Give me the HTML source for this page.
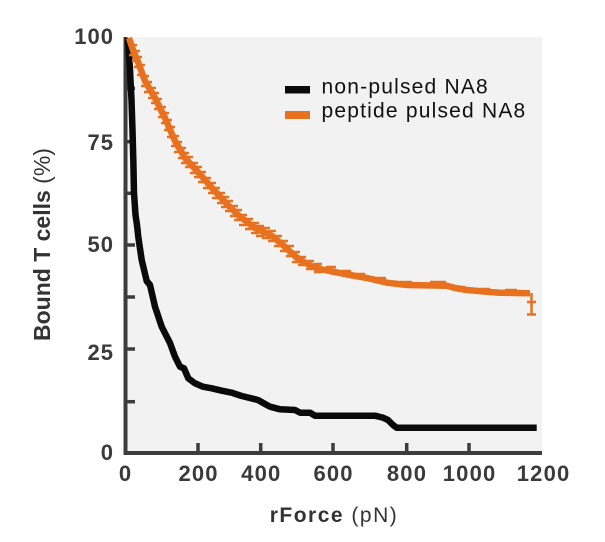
<!DOCTYPE html>
<html>
<head>
<meta charset="utf-8">
<style>
  html, body { margin: 0; padding: 0; background: #ffffff; }
  svg { display: block; }
  text { font-family: "Liberation Sans", Arial, sans-serif; }
</style>
</head>
<body>
<svg width="605" height="542" viewBox="0 0 605 542" xmlns="http://www.w3.org/2000/svg">
  <rect x="0" y="0" width="605" height="542" fill="#ffffff"/>
  <!-- plot background -->
  <rect x="127" y="37" width="415" height="415" fill="#f2f2f2"/>

  <!-- axes -->
  <g stroke="#3d3d3d" stroke-width="4" fill="none">
    <line x1="125.5" y1="37" x2="125.5" y2="455"/>
    <line x1="123.5" y1="453" x2="542" y2="453"/>
  </g>
  <!-- y ticks -->
  <g stroke="#3d3d3d" stroke-width="3.5">
    <line x1="125" y1="88.3" x2="135" y2="88.3"/>
    <line x1="125" y1="141.7" x2="135" y2="141.7"/>
    <line x1="125" y1="193.3" x2="135" y2="193.3"/>
    <line x1="125" y1="245" x2="135" y2="245"/>
    <line x1="125" y1="297" x2="135" y2="297"/>
    <line x1="125" y1="349" x2="135" y2="349"/>
    <line x1="125" y1="401.7" x2="135" y2="401.7"/>
  </g>
  <!-- x ticks -->
  <g stroke="#3d3d3d" stroke-width="3.5">
    <line x1="198" y1="443" x2="198" y2="453"/>
    <line x1="260.7" y1="443" x2="260.7" y2="453"/>
    <line x1="333" y1="443" x2="333" y2="453"/>
    <line x1="406.7" y1="443" x2="406.7" y2="453"/>
    <line x1="469" y1="443" x2="469" y2="453"/>
  </g>

  <!-- y tick labels -->
  <g font-size="22" font-weight="bold" fill="#3a3a3a" text-anchor="end" letter-spacing="1">
    <text x="114" y="44">100</text>
    <text x="114" y="150">75</text>
    <text x="114" y="252">50</text>
    <text x="114" y="360">25</text>
    <text x="114" y="460">0</text>
  </g>
  <!-- x tick labels -->
  <g font-size="22" font-weight="bold" fill="#3a3a3a" text-anchor="middle" letter-spacing="1.2">
    <text x="125.6" y="481">0</text>
    <text x="198.6" y="481">200</text>
    <text x="261.3" y="481">400</text>
    <text x="333.6" y="481">600</text>
    <text x="407" y="481">800</text>
    <text x="469.6" y="481">1000</text>
    <text x="543.6" y="481">1200</text>
  </g>

  <!-- axis labels -->
  <text x="334" y="522" font-size="21" fill="#333333" text-anchor="middle" letter-spacing="1.5"><tspan font-weight="bold">rForce</tspan> (pN)</text>
  <text transform="translate(50,341) rotate(-90)" font-size="23" fill="#333333"><tspan font-weight="bold">Bound T cells</tspan> (%)</text>

  <!-- black series -->
  <polyline fill="none" stroke="#0a0a0a" stroke-width="6.5" stroke-linejoin="round" stroke-linecap="butt"
    points="128,38 130,70 131.5,100 132.5,130 133.3,160 134,193 135.5,215 137,225 138.3,237 141.7,260 146.7,281 150,285 155,306.7 161.7,326.7 170,343 175,356.7 180,366.7 184,368.3 188.3,378.3 195,383.3 203,386.7 211.7,388.3 221.7,390.7 231.7,392.7 241.7,396 258,400 265,404 270,406.7 280,409.3 295,410 300,412.7 310,412.7 315,415.7 375,415.7 383,417.7 388,420 393,425 396.7,427.7 536.7,427.7"/>

  <!-- orange series -->
  <g stroke="#e8711f" fill="none">
    <polyline stroke-width="6.5" stroke-linejoin="round"
      points="129,38 133,50 138,62 145,81 155,98 165,118 175,141 185,158 198,172 212,188 225,202 238,215 255,228 272,236 284,246 296,257 302,261 313,266.7 320,269 333,271.7 350,275 367,278 387,282.7 407,285 447,285.7 455,288 467,290 487,291.7 500,292.7 530,293.3"/>
    <path stroke-width="2.5" d="M129 45h8M129 55h8M132 51h8M132 61h8M134 57h8M134 67h8M137 65h8M137 75h8M141 76h8M141 86h8M144 82h8M144 92h8M148 88h8M148 98h8M151 93h8M151 103h8M154 99h8M154 109h8M158 107h8M158 117h8M161 113h8M161 123h8M164 120h8M164 130h8M167 127h8M167 137h8M171 136h8M171 146h8M174 142h8M174 152h8M178 148h8M178 158h8M181 153h8M181 163h8M185 157h8M185 167h8M190 163h8M190 173h8M194 167h8M194 177h8M198 172h8M198 182h8M203 178h8M203 188h8M208 183h8M208 193h8M212 188h8M212 198h8M217 193h8M217 203h8M221 197h8M221 207h8M225 201h8M225 211h8M230 206h8M230 216h8M234 210h8M234 220h8M239 215h8M239 225h8M245 219h8M245 229h8M251 223h8M251 233h8M256 226h8M256 236h8M262 228h8M262 238h8M268 231h8M268 241h8M274 236h8M274 246h8M280 241h8M280 251h8M286 246h8M286 256h8M292 252h8M292 262h8M298 257h8M298 265h8M306 261h8M306 269h8M314 264h8M314 272h8M326 267h10M341 271h10M355 274h10M376 278h10M400 282h12M430 282h16M455 287h10M480 289h10M505 290h12"/>
    <path stroke-width="2.5" d="M531.5 293V315M527 302h9M527 314.5h9"/>
  </g>

  <!-- legend -->
  <rect x="285" y="86" width="25" height="7.5" fill="#0a0a0a"/>
  <rect x="285" y="111" width="25" height="8" fill="#e8711f"/>
  <g font-size="21" fill="#111111" letter-spacing="1.2">
    <text x="321.5" y="93.5">non-pulsed NA8</text>
    <text x="321.5" y="117.5">peptide pulsed NA8</text>
  </g>
</svg>
</body>
</html>
